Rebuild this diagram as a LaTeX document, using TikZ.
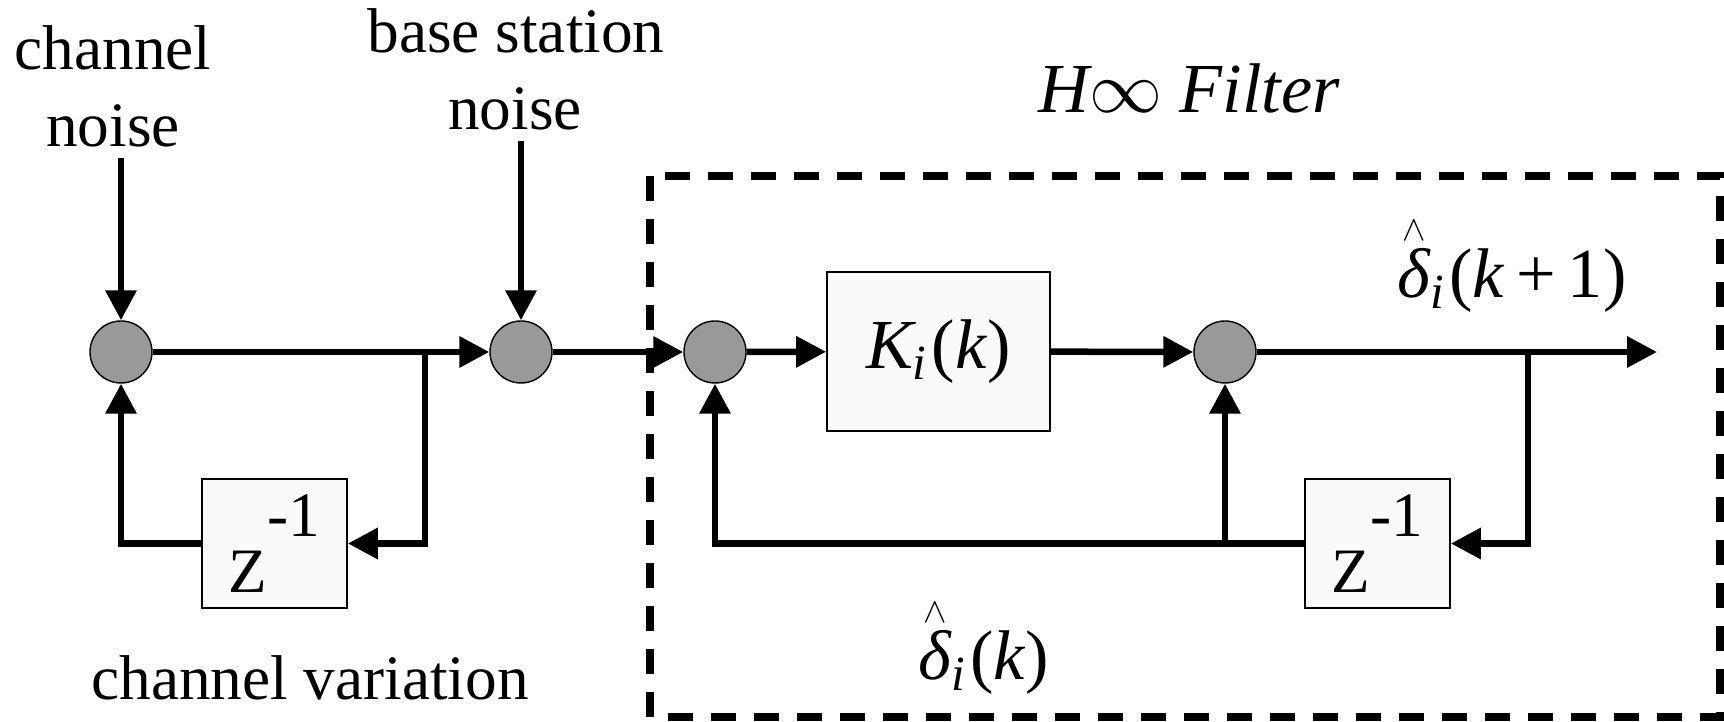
\documentclass[tikz,border=0pt]{standalone}
\usepackage{amsmath}
\usepackage{fontspec}
\setmainfont{Liberation Serif}
\usetikzlibrary{arrows.meta}
\newcommand\ti[1]{\text{\itshape #1}}
\newcommand\dhat{\overset{\raisebox{-.15em}{$\scriptscriptstyle\wedge$}}{\ti{δ}}}
\newcommand\zinv{{\fontsize{18}{22}\selectfont Z\raisebox{5.6mm}{-1}}}

\begin{document}
\begin{tikzpicture}[x=.1mm,y=-.1mm,font=\fontsize{18}{21}\selectfont,>={Triangle[length=3mm,width=3mm]},
  sum/.style={circle,draw,fill=gray!80,minimum size=6.2mm,inner sep=0pt},
  blk/.style={draw,fill=black!2,line width=.5pt,inner sep=0pt},
  wire/.style={line width=.65mm},
  mth/.style={font=\fontsize{20}{24}\selectfont}]
\useasboundingbox (0,0) rectangle (1724,722);
% summing points on the signal line
\foreach \n/\x in {sA/121,sB/521,sC/715,sD/1225}
  \node[sum] (\n) at (\x,352) {};
\coordinate (brL) at (425,352);
\coordinate (brR) at (1528,352);
\coordinate (out) at (1657,352);
% blocks
\node[blk,mth,minimum width=22.3mm,minimum height=15.9mm] (gain) at (938.5,351.5)
  {$\ti{K}_{\ti{i}}$\kern1pt(\textit{k})};
\node[blk,minimum width=14.5mm,minimum height=12.9mm] (zL) at (274.5,543.5) {\zinv};
\node[blk,minimum width=14.5mm,minimum height=12.9mm] (zR) at (1377.5,543.5) {\zinv};
% texts
\node[anchor=base] (chan) at (113,70) {channel};
\node[anchor=base,inner sep=1mm] (cnoise) at (113,147) {noise};
\node[anchor=base] (base) at (516,53) {base station};
\node[anchor=base,inner sep=1mm] (bnoise) at (515,130) {noise};
\node[anchor=base] (var) at (310,700) {channel variation};
\node[anchor=base west,inner sep=0pt,font=\fontsize{20}{24}\selectfont\itshape] (ftitle) at (1038,113)
  {H$\infty$ Filter};
\node[anchor=base west,inner sep=0pt,mth] (estnext) at (1397,298)
  {$\dhat_{\ti{i}}$\kern1pt(\textit{k}\,+\,1)};
\node[anchor=base west,inner sep=0pt,mth] (est) at (918,680)
  {$\dhat_{\ti{i}}$\kern1pt(\textit{k})};
% H-infinity filter frame
\draw[line width=.8mm,dash pattern=on 2.5mm off 1.8mm] (650,176) rectangle (1720,717);
% noise inputs
\draw[wire,->] (sA |- cnoise.south) -- (sA);
\draw[wire,->] (sB |- bnoise.south) -- (sB);
% forward path
\draw[wire,->] (sA) -- (sB);
\draw[wire,->] (sB) -- (sC);
\draw[wire,->] (sC) -- (gain);
\draw[wire,->] (gain) -- (sD);
\draw[wire,->] (sD) -- (out);
% channel variation loop
\draw[wire,->] (brL) |- (zL.east);
\draw[wire,->] (zL.west) -| (sA.south);
% filter loop
\draw[wire,->] (brR) |- (zR.east);
\draw[wire,->] (zR.west) -| (sC.south);
\draw[wire,->] (sD |- zR.west) -- (sD.south);
\end{tikzpicture}
\end{document}
